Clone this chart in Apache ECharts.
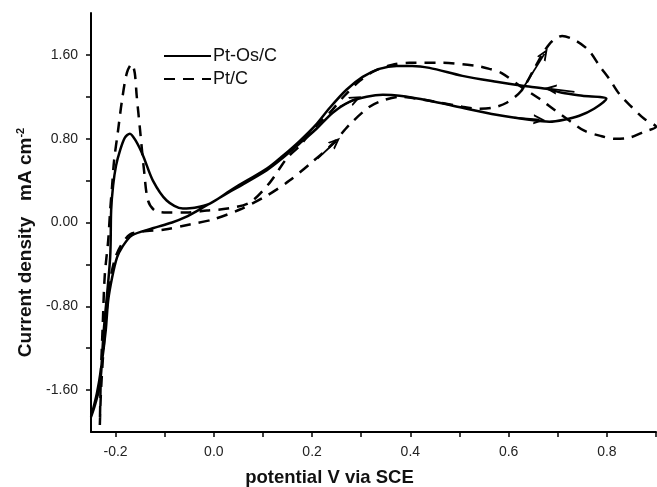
<!DOCTYPE html>
<html>
<head>
<meta charset="utf-8">
<script src="https://cdn.jsdelivr.net/npm/echarts@6/dist/echarts.min.js"></script>
<style>
  html, body { margin: 0; padding: 0; background: #fff; }
  #chart { width: 657px; height: 487px; }
</style>
</head>
<body>
<div id="chart"></div>
<script>
// ---- Data (potential in V vs SCE, current density in mA cm^-2) ----
const seriesNames = ['Pt-Os/C', 'Pt/C'];

// Pt-Os/C : forward sweep then reverse sweep (closed CV loop)
const ptOsC_potential = [
  -0.250, -0.238, -0.230, -0.220, -0.215, -0.207, -0.197, -0.187, -0.167, -0.126,
  -0.085, -0.059, -0.022, 0.039, 0.108, 0.140, 0.175, 0.209, 0.242, 0.276,
  0.311, 0.344, 0.378, 0.439, 0.506, 0.575, 0.642, 0.683, 0.713, 0.744,
  0.774, 0.799,
  0.750, 0.709, 0.677, 0.628, 0.575, 0.506, 0.439, 0.404, 0.372, 0.337,
  0.303, 0.270, 0.236, 0.209, 0.175, 0.140, 0.108, 0.039, -0.008, -0.039,
  -0.063, -0.096, -0.124, -0.144, -0.159, -0.171, -0.181, -0.191, -0.199, -0.205,
  -0.209, -0.211, -0.224, -0.232, -0.242, -0.250
];
const ptOsC_current = [
  -1.857, -1.629, -1.410, -1.029, -0.743, -0.524, -0.333, -0.238, -0.124, -0.057,
  0.000, 0.048, 0.143, 0.310, 0.500, 0.615, 0.755, 0.895, 1.048, 1.152,
  1.200, 1.219, 1.210, 1.162, 1.095, 1.029, 0.981, 0.962, 0.981, 1.019,
  1.086, 1.181,
  1.210, 1.238, 1.276, 1.305, 1.343, 1.400, 1.476, 1.495, 1.495, 1.467,
  1.390, 1.267, 1.095, 0.940, 0.780, 0.635, 0.515, 0.322, 0.180, 0.140,
  0.133, 0.210, 0.400, 0.638, 0.781, 0.848, 0.810, 0.686, 0.543, 0.352,
  0.114, -0.333, -1.029, -1.552, -1.743, -1.857
];

// Pt/C : forward sweep then reverse sweep (closed CV loop)
const ptC_potential = [
  -0.232, -0.230, -0.226, -0.220, -0.211, -0.201, -0.189, -0.171, -0.146, -0.100,
  -0.049, -0.002, 0.053, 0.108, 0.154, 0.201, 0.242, 0.276, 0.317, 0.348,
  0.378, 0.439, 0.506, 0.541, 0.567, 0.596, 0.626, 0.652, 0.673, 0.689,
  0.709, 0.738, 0.764, 0.785, 0.805, 0.825, 0.850, 0.876, 0.900,
  0.876, 0.846, 0.815, 0.785, 0.754, 0.724, 0.693, 0.663, 0.626, 0.585,
  0.561, 0.535, 0.465, 0.398, 0.362, 0.327, 0.297, 0.266, 0.236, 0.205,
  0.175, 0.148, 0.114, 0.073, 0.028, -0.014, -0.055, -0.096, -0.120, -0.134,
  -0.142, -0.150, -0.157, -0.161, -0.167, -0.177, -0.187, -0.195, -0.203, -0.207,
  -0.211, -0.215, -0.222, -0.226, -0.230, -0.232
];
const ptC_current = [
  -1.933, -1.648, -1.314, -0.933, -0.552, -0.343, -0.219, -0.114, -0.086, -0.067,
  -0.019, 0.029, 0.124, 0.257, 0.400, 0.581, 0.752, 0.933, 1.105, 1.171,
  1.200, 1.162, 1.105, 1.086, 1.095, 1.143, 1.257, 1.467, 1.638, 1.733,
  1.781, 1.733, 1.638, 1.495, 1.371, 1.229, 1.105, 0.990, 0.914,
  0.867, 0.810, 0.800, 0.829, 0.876, 0.971, 1.076, 1.181, 1.295, 1.429,
  1.467, 1.495, 1.524, 1.524, 1.505, 1.448, 1.352, 1.210, 1.048, 0.905,
  0.733, 0.610, 0.381, 0.190, 0.133, 0.114, 0.095, 0.095, 0.114, 0.210,
  0.495, 0.876, 1.210, 1.429, 1.514, 1.429, 1.162, 0.876, 0.590, 0.352,
  0.114, -0.171, -0.505, -0.962, -1.476, -1.933
];

// Sweep-direction arrows: [fromPotential, fromCurrent, toPotential, toCurrent]
const arrowSegments = [
  [0.256, 1.105, 0.289, 1.181],
  [0.211, 0.610, 0.248, 0.771],
  [0.734, 1.248, 0.685, 1.276],
  [0.612, 1.000, 0.663, 0.981],
  [0.626, 1.257, 0.673, 1.610]
];

// Axis ticks / labels
const xTickValues = [-0.2, -0.1, 0.0, 0.1, 0.2, 0.3, 0.4, 0.5, 0.6, 0.7, 0.8, 0.9];
const xLabelValues = [-0.2, 0.0, 0.2, 0.4, 0.6, 0.8];
const yTickValues = [-1.6, -1.2, -0.8, -0.4, 0.0, 0.4, 0.8, 1.2, 1.6];
const yLabelValues = [-1.6, -0.8, 0.0, 0.8, 1.6];

// ---- Build chart ----
const zip = (a, b) => a.map((v, i) => [v, b[i]]);
const FONT = '"Liberation Sans", Arial, sans-serif';
const chevron = 'path://M0,10 L5,0 L10,10 L8,10 L5,4 L2,10 Z';

const chart = echarts.init(document.getElementById('chart'), null, { renderer: 'canvas' });
chart.setOption({
  animation: false,
  backgroundColor: '#ffffff',
  grid: { left: 91, right: 1, top: 13, bottom: 55, containLabel: false, outerBoundsMode: 'none' },
  legend: {
    orient: 'vertical',
    left: 158,
    top: 42,
    itemWidth: 47,
    itemHeight: 14,
    itemGap: 5,
    itemStyle: { opacity: 0 },
    textStyle: { fontFamily: FONT, fontSize: 18, color: '#111', padding: [0, 0, 0, -3] },
    data: seriesNames
  },
  xAxis: {
    type: 'value',
    min: -0.25,
    max: 0.9,
    name: 'potential V via SCE',
    nameLocation: 'middle',
    nameGap: 36,
    nameTextStyle: { fontFamily: FONT, fontSize: 18.5, fontWeight: 'bold', color: '#111', padding: [0, 88, 0, 0] },
    axisLine: { onZero: false, lineStyle: { color: '#000', width: 2 } },
    axisTick: { show: true, inside: false, length: 5, customValues: xTickValues, lineStyle: { color: '#000', width: 1.5 } },
    axisLabel: {
      customValues: xLabelValues,
      margin: 13,
      fontFamily: FONT, fontSize: 14, color: '#222',
      formatter: v => v.toFixed(1)
    },
    splitLine: { show: false }
  },
  yAxis: {
    type: 'value',
    min: -2,
    max: 2,
    name: 'Current density   mA cm{sup|-2}',
    nameLocation: 'middle',
    nameGap: 55,
    nameTextStyle: {
      fontFamily: FONT, fontSize: 19, fontWeight: 'bold', color: '#111',
      padding: [0, 40, 0, 0],
      rich: { sup: { fontFamily: FONT, fontSize: 11, fontWeight: 'bold', color: '#111', verticalAlign: 'top', padding: [0, 0, 10, 0] } }
    },
    axisLine: { onZero: false, lineStyle: { color: '#000', width: 2 } },
    axisTick: { show: true, inside: false, length: 5, customValues: yTickValues, lineStyle: { color: '#000', width: 1.5 } },
    axisLabel: {
      customValues: yLabelValues,
      margin: 13,
      fontFamily: FONT, fontSize: 14, color: '#222',
      formatter: v => v.toFixed(2)
    },
    splitLine: { show: false }
  },
  series: [
    {
      name: seriesNames[0],
      type: 'line',
      data: zip(ptOsC_potential, ptOsC_current),
      showSymbol: false,
      symbol: 'none',
      smooth: 0.3,
      color: '#000',
      lineStyle: { color: '#000', width: 2.5, type: 'solid' },
      markLine: {
        silent: true,
        symbol: ['none', chevron],
        symbolSize: [10, 12],
        label: { show: false },
        lineStyle: { color: '#000', width: 1.8, type: 'solid' },
        data: arrowSegments.map(a => [{ coord: [a[0], a[1]] }, { coord: [a[2], a[3]] }])
      }
    },
    {
      name: seriesNames[1],
      type: 'line',
      data: zip(ptC_potential, ptC_current),
      showSymbol: false,
      symbol: 'none',
      smooth: 0.3,
      color: '#000',
      lineStyle: { color: '#000', width: 2.5, type: [11, 8] }
    }
  ]
});
</script>
</body>
</html>
